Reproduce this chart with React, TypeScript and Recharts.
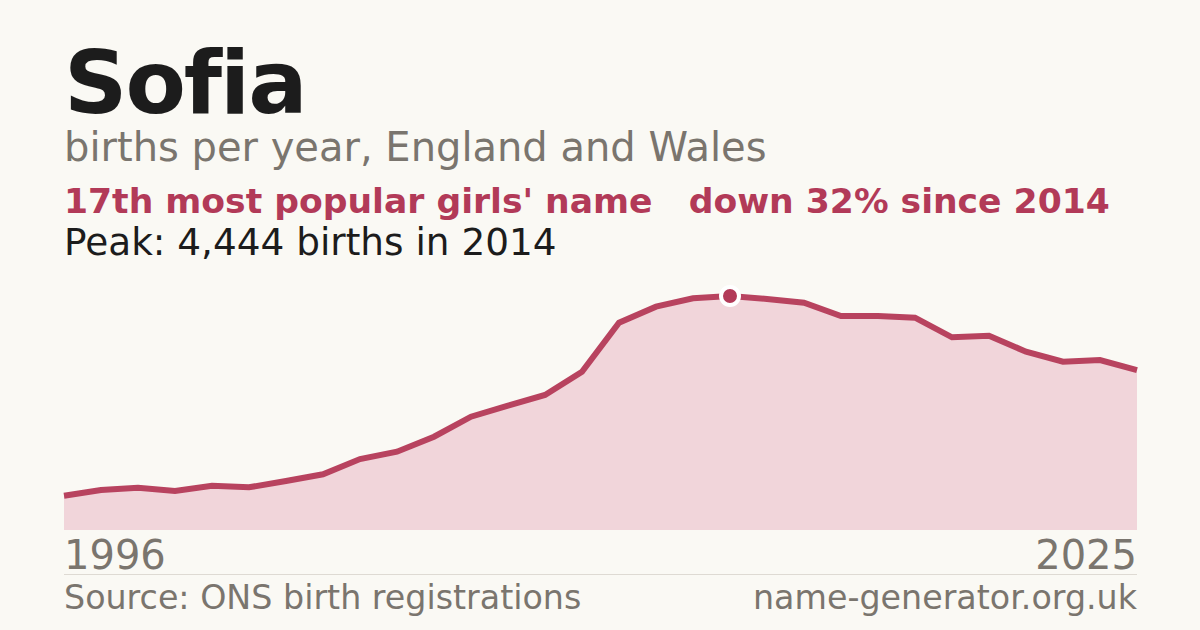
import { AreaChart, Area, XAxis, YAxis, ReferenceDot } from 'recharts';

const years = [
  1996, 1997, 1998, 1999, 2000, 2001, 2002, 2003, 2004, 2005,
  2006, 2007, 2008, 2009, 2010, 2011, 2012, 2013, 2014, 2015,
  2016, 2017, 2018, 2019, 2020, 2021, 2022, 2023, 2024, 2025,
];
const births = [
  651, 760, 803, 741, 841, 811, 931, 1058, 1348, 1487,
  1772, 2152, 2361, 2564, 3006, 3937, 4241, 4400, 4444, 4387,
  4317, 4064, 4064, 4032, 3659, 3690, 3386, 3196, 3228, 3038,
];
const axisTicks = [1996, 2025];

const data = years.map((year, i) => ({ year, births: births[i] }));
const peakIndex = births.indexOf(Math.max(...births));

const FONT = '"DejaVu Sans", sans-serif';
const RED = '#b23a58';
const LINE = '#b8435f';
const GREY = '#7a756e';
const INK = '#1c1c1c';

function YearTick(props: any) {
  const { x, y, payload, index } = props;
  return (
    <text
      x={x}
      y={y}
      dy={31}
      textAnchor={index === 0 ? 'start' : 'end'}
      fill={GREY}
      fontSize={40}
      fontFamily={FONT}
    >
      {payload.value}
    </text>
  );
}

export default function App() {
  return (
    <div
      style={{
        position: 'fixed',
        left: 0,
        top: 0,
        width: 1200,
        height: 630,
        background: '#faf9f4',
        fontFamily: FONT,
        fontVariantLigatures: 'none',
        fontFeatureSettings: '"liga" 0',
        overflow: 'hidden',
      }}
    >
      <div style={{ position: 'absolute', left: 0, top: 0 }}>
        <AreaChart
          width={1200}
          height={630}
          data={data}
          margin={{ top: 296, right: 63, bottom: 40, left: 64 }}
        >
          <XAxis
            dataKey="year"
            type="number"
            domain={[1996, 2025]}
            ticks={axisTicks}
            tick={<YearTick />}
            axisLine={false}
            tickLine={false}
            height={60}
            interval={0}
          />
          <YAxis hide domain={[0, 'dataMax']} />
          <Area
            type="linear"
            dataKey="births"
            stroke={LINE}
            strokeWidth={6}
            fill="#f1d5da"
            fillOpacity={1}
            isAnimationActive={false}
            dot={false}
            activeDot={false}
          />
          <ReferenceDot
            x={years[peakIndex]}
            y={births[peakIndex]}
            r={9}
            fill={RED}
            stroke="#ffffff"
            strokeWidth={4}
          />
        </AreaChart>
      </div>

      <div style={{ position: 'absolute', left: 64, top: 39, fontSize: 88, fontWeight: 700, letterSpacing: -2, color: INK, lineHeight: 1 }}>
        Sofia
      </div>
      <div style={{ position: 'absolute', left: 64, top: 127, fontSize: 40, color: GREY, lineHeight: 1 }}>
        births per year, England and Wales
      </div>
      <div style={{ position: 'absolute', left: 64, top: 184, fontSize: 34.6, fontWeight: 700, color: RED, lineHeight: 1, whiteSpace: 'pre' }}>
        {"17th most popular girls' name   down 32% since 2014"}
      </div>
      <div style={{ position: 'absolute', left: 64, top: 224, fontSize: 37.4, color: INK, lineHeight: 1 }}>
        Peak: 4,444 births in 2014
      </div>

      <div style={{ position: 'absolute', left: 64, top: 574, width: 1073, borderTop: '1px solid #dedad3' }} />
      <div style={{ position: 'absolute', left: 64, top: 581, fontSize: 33.3, color: GREY, lineHeight: 1 }}>
        Source: ONS birth registrations
      </div>
      <div style={{ position: 'absolute', right: 63, top: 581, fontSize: 33.3, color: GREY, lineHeight: 1 }}>
        name-generator.org.uk
      </div>
    </div>
  );
}
